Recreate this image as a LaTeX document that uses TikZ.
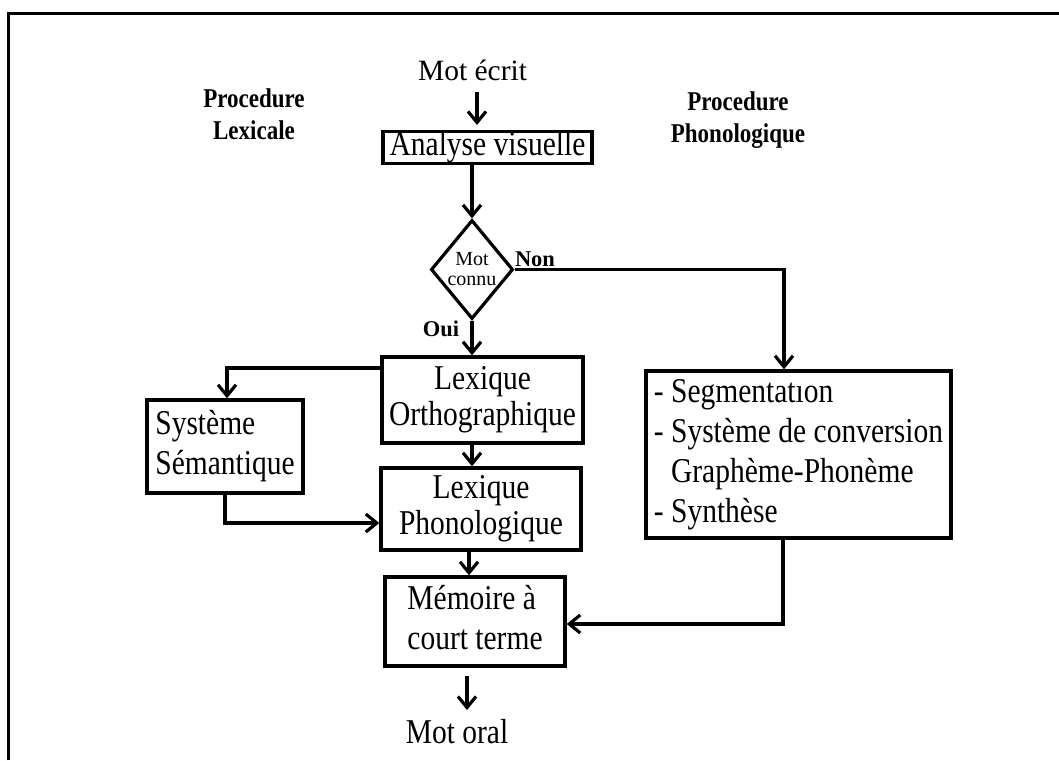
\documentclass[tikz,border=0pt]{standalone}
\usepackage{fontspec}
\setmainfont{Liberation Serif}
\usepackage{graphicx}
\usetikzlibrary{arrows.meta,shapes.geometric,calc}

% text set slightly taller than wide
\newcommand{\vstr}[1]{\scalebox{1}[1.18]{#1}}
\newcommand{\lines}[2]{\vstr{\begin{tabular}{@{}#1@{}}#2\end{tabular}}}

\begin{document}
\begin{tikzpicture}[x=1pt,y=-1pt,
  every node/.style={font=\fontsize{29.5}{34}\selectfont},
  box/.style={draw, line width=3.4pt, rectangle, inner sep=0pt, align=center},
  tight/.style={font=\fontsize{29.5}{31}\selectfont},
  flow/.style={line width=3.2pt, -{Straight Barb[length=11pt,width=18pt,line width=3.2pt]}},
  heading/.style={font=\fontsize{23}{26.3}\bfseries\selectfont},
  answer/.style={font=\fontsize{22.5}{27}\bfseries\selectfont},
]
\useasboundingbox (0,0) rectangle (1059,760);

% outer frame (top and left edges)
\draw[line width=3.5pt] (8.5,760) -- (8.5,13.5) -- (1059,13.5);

% headings
\node[heading] (hlex) at (254,117.3) {\lines{c}{Procedure\\Lexicale}};
\node[heading] (hphon) at (738,120.3) {\lines{c}{Procedure\\Phonologique}};

% input and output words
\node[anchor=base] (ecrit) at (472.5,81) {Mot écrit};
\node[anchor=base] (oral) at (457,743) {\vstr{Mot oral}};

% boxes
\node[box, minimum width=209pt, minimum height=31pt] (analyse) at (487.5,147.5) {\vstr{Analyse visuelle}};
\node[diamond, draw, line width=3.2pt, minimum width=78pt, minimum height=99pt, inner sep=0pt,
      align=center, font=\fontsize{20}{20}\selectfont] (connu) at (472,269.5) {Mot\\connu};
\node[box, tight, minimum width=201pt, minimum height=86pt] (ortho) at (482.5,400) {\lines{c}{Lexique\\Orthographique}};
\node[box, tight, minimum width=200pt, minimum height=82pt] (phono) at (481,509) {\lines{c}{Lexique\\Phonologique}};
\node[box, minimum width=180pt, minimum height=89pt] (memoire) at (475,621.5) {\lines{l}{Mémoire à\\court terme}};
\node[box, minimum width=156pt, minimum height=93pt] (systeme) at (225,446.5) {\lines{l}{Système\\Sémantique}};
\node[box, minimum width=305pt, minimum height=167pt] (seg) at (798.5,454.5)
  {\lines{l}{- Segmentatıon\\- Système de conversion\\\phantom{- }Graphème-Phonème\\- Synthèse}};

% answer labels
\node[answer, anchor=base] (non) at (535,266) {Non};
\node[answer, anchor=base] (oui) at (441,336) {Oui};

% connectors
\coordinate (e1) at (477,92);
\draw[flow, shorten >=5pt] (e1) -- (e1 |- analyse.north);
\draw[flow] (analyse.south -| connu.north) -- (connu.north);

\coordinate (nonturn) at (784,269.5);
\draw[flow] (connu.east) -- (nonturn) -- (nonturn |- seg.north);

\draw[flow] (connu.south) -- (connu.south |- ortho.north);
\draw[flow] (ortho.south -| connu.south) -- (connu.south |- phono.north);
\coordinate (pm) at (469,550);
\draw[flow] (pm) -- (pm |- memoire.north);

\coordinate (os) at (382,368);
\draw[flow] (os) -| ($(systeme.north)+(2,0)$);
\coordinate (sp) at (225,523);
\draw[flow] (systeme.south) -- (sp) -- (sp -| phono.west);

\coordinate (sm) at (783,624);
\draw[flow] (sm |- seg.south) -- (sm) -- (sm -| memoire.east);

\coordinate (o1) at (467,676);
\coordinate (o2) at (467,710);
\draw[flow] (o1) -- (o2);
\end{tikzpicture}
\end{document}
